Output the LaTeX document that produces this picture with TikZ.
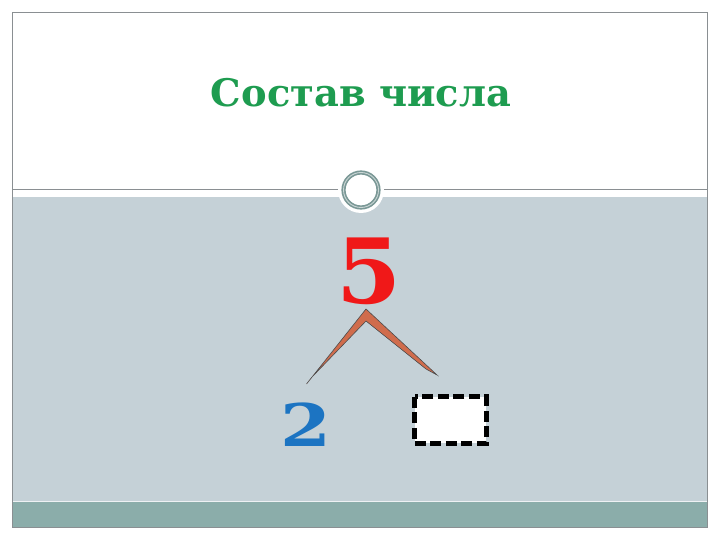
\documentclass[tikz,border=0pt]{standalone}
\usepackage{fontspec}
\setmainfont{DejaVu Serif}
\definecolor{panelgray}{HTML}{C5D1D7}
\definecolor{bandteal}{HTML}{8BADAA}
\definecolor{framegray}{HTML}{8A8F92}
\definecolor{ringteal}{HTML}{7A9896}
\definecolor{titlegreen}{HTML}{1E9C50}
\definecolor{digitred}{HTML}{F01818}
\definecolor{digitblue}{HTML}{1C74C2}
\definecolor{strokebrown}{HTML}{D06C4C}
\tikzset{
  digit/.style={inner sep=0pt, font=\bfseries},
  title/.style={inner sep=0pt, font=\bfseries\fontsize{38}{44}\selectfont, text=titlegreen},
  dashbox/.style={draw=black, line width=5pt, dash pattern=on 11pt off 4.5pt},
}
\begin{document}
\begin{tikzpicture}[x=1pt,y=-1pt]
\useasboundingbox (0,0) rectangle (720,540);
\fill[white] (0,0) rectangle (720,540);
% panels
\fill[panelgray] (12,197) rectangle (707,502);
\fill[bandteal] (12,502) rectangle (707,527);
\draw[white!70!panelgray, line width=1pt] (12,501) -- (707,501);
\draw[framegray, line width=0.8pt] (12,12) rectangle (707,527);
\draw[framegray, line width=1pt] (12,190) -- (707,190);
% ring
\fill[white] (361,190) circle (23);
\draw[ringteal, line width=4.2pt] (361,190) circle (17.5);
\draw[white!60!ringteal, line width=0.9pt] (361,190) circle (17.5);
% title
\node[title] (t) at (361,93) {\scalebox{1.01}[1]{Состав числа}};
% digits
\node[digit, text=digitred, font=\bfseries\fontsize{90}{100}\selectfont] (five) at (369,271) {\scalebox{1.04}[1]{5}};
\node[digit, text=digitblue, font=\bfseries\fontsize{60}{70}\selectfont] (two) at (305.5,425) {\scalebox{1.22}[0.98]{2}};
% dashed box
\node[fill=white, minimum width=71pt, minimum height=46pt, inner sep=0pt] (box) at (450.5,420) {};
\draw[dashbox] (box.north west) rectangle (box.south east);
% chevron
\coordinate (apex) at (366,309);
\coordinate (inner) at (366,321);
\coordinate (lt) at (306.5,384);
\coordinate (rt) at (437,375);
\filldraw[fill=strokebrown, draw=black!70, line width=0.6pt, line join=miter]
  (apex) -- (rt) -- (426,369) -- (inner) -- (312,377) -- (lt) -- cycle;
\end{tikzpicture}
\end{document}
